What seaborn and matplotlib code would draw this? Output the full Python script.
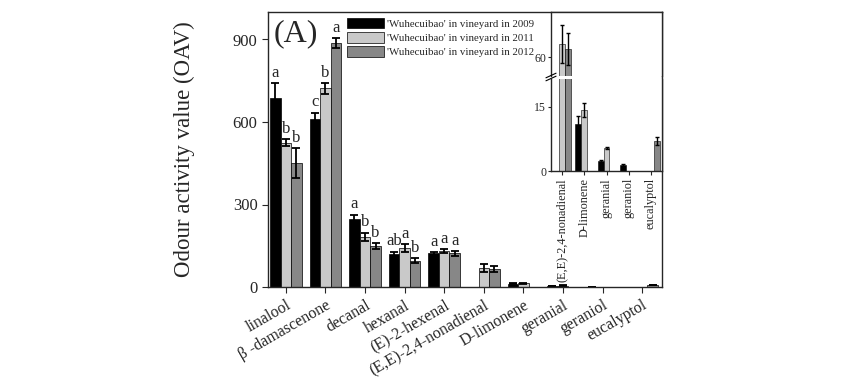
import numpy as np
import pandas as pd
import matplotlib
matplotlib.use("Agg")
import matplotlib.pyplot as plt
import seaborn as sns

compounds = ['linalool', 'β -damascenone', 'decanal', 'hexanal', '(E)-2-hexenal',
             '(E,E)-2,4-nonadienal', 'D-limonene', 'geranial', 'geraniol', 'eucalyptol']
years = ["'Wuhecuibao' in vineyard in 2009",
         "'Wuhecuibao' in vineyard in 2011",
         "'Wuhecuibao' in vineyard in 2012"]
oav_2009 = [688, 611, 248, 119, 122, 0, 11.1, 2.4, 1.4, 0]
err_2009 = [52, 23, 15, 10, 5, 0, 1.7, 0.2, 0.3, 0]
oav_2011 = [525, 722, 183, 141, 131, 70, 14.2, 5.3, 0, 0]
err_2011 = [12, 20, 15, 15, 6, 14, 1.6, 0.2, 0, 0]
oav_2012 = [450, 886, 149, 96, 122, 66, 0, 0, 0, 7.0]
err_2012 = [54, 18, 12, 10, 8, 12, 0, 0, 0, 0.9]
letters_2009 = ['a', 'c', 'a', 'ab', 'a']
letters_2011 = ['b', 'b', 'b', 'a', 'a']
letters_2012 = ['b', 'a', 'b', 'b', 'a']

inset_compounds = compounds[5:]
colors = ['#000000', '#c9c9c9', '#878787']

vals = [oav_2009, oav_2011, oav_2012]
errs = [err_2009, err_2011, err_2012]
lets = [letters_2009, letters_2011, letters_2012]

df = pd.DataFrame({
    'compound': compounds * 3,
    'year': [y for y in years for _ in compounds],
    'oav': oav_2009 + oav_2011 + oav_2012,
})

sns.set_style('ticks')
plt.rcParams['font.family'] = ['Liberation Serif', 'DejaVu Serif']
plt.rcParams['axes.linewidth'] = 1.0

fig = plt.figure(figsize=(8.43, 3.84), dpi=100)
ax = fig.add_axes([268 / 843, 1 - 287 / 384, (662 - 268) / 843, (287 - 12) / 384])

sns.barplot(data=df, x='compound', y='oav', hue='year', order=compounds, hue_order=years,
            palette=colors, errorbar=None, width=0.8, edgecolor='black', linewidth=0.5, ax=ax)
bar_groups = list(ax.containers[:3])


def add_errors(axis, groups, cats, lw=1.3, cap=3):
    for i, cont in enumerate(groups):
        for j, bar in enumerate(cont):
            k = compounds.index(cats[j])
            v, e = vals[i][k], errs[i][k]
            if v == 0 or e == 0:
                continue
            xc = bar.get_x() + bar.get_width() / 2
            axis.errorbar(xc, v, yerr=e, fmt='none', ecolor='black', elinewidth=lw,
                          capsize=cap, capthick=lw)


add_errors(ax, bar_groups, compounds)

for i, cont in enumerate(bar_groups):
    for j, lab in enumerate(lets[i]):
        bar = cont[j]
        xc = bar.get_x() + bar.get_width() / 2
        top = vals[i][j] + errs[i][j]
        ax.text(xc, top + 8, lab, ha='center', va='bottom', fontsize=12)

ax.set_xlim(-0.45, 9.5)
ax.set_ylim(0, 1000)
ax.set_yticks([0, 300, 600, 900])
ax.tick_params(axis='y', labelsize=12, direction='out', length=4)
ax.tick_params(axis='x', labelsize=11.5, direction='out', length=4)
plt.setp(ax.get_xticklabels(), rotation=30, ha='right', rotation_mode='anchor')
ax.set_xlabel('')
ax.set_ylabel('Odour activity value (OAV)', fontsize=16.5)
ax.yaxis.set_label_coords(-0.185, 0.5)
ax.text(0.07, 0.92, '(A)', transform=ax.transAxes, fontsize=23, ha='center', va='center')

ax.legend(loc='upper left', bbox_to_anchor=(0.19, 0.995), frameon=False, fontsize=7.8,
          handlelength=3.4, handleheight=1.15, handletextpad=0.3, labelspacing=0.3,
          borderaxespad=0)

# inset with broken y axis
inset_df = df[df['compound'].isin(inset_compounds)]
x0, x1 = 551 / 843, 662 / 843
ax_lo = fig.add_axes([x0, 1 - 171 / 384, x1 - x0, (171 - 79) / 384])
ax_hi = fig.add_axes([x0, 1 - 76 / 384, x1 - x0, (76 - 12) / 384])

for a in (ax_lo, ax_hi):
    sns.barplot(data=inset_df, x='compound', y='oav', hue='year', order=inset_compounds,
                hue_order=years, palette=colors, errorbar=None, width=0.8,
                edgecolor='black', linewidth=0.4, ax=a, legend=False)
    add_errors(a, list(a.containers[:3]), inset_compounds, lw=1.0, cap=1.5)
    a.set_xlim(-0.5, 4.5)
    a.set_xlabel('')
    a.set_ylabel('')
    a.tick_params(axis='y', labelsize=8.5, direction='out', length=2.5, pad=1)

ax_lo.set_ylim(0, 21.5)
ax_lo.set_yticks([0, 15])
ax_lo.spines['top'].set_visible(False)
ax_lo.tick_params(axis='x', labelsize=8.8, direction='out', length=3, pad=2)
plt.setp(ax_lo.get_xticklabels(), rotation=90)

ax_hi.set_ylim(46, 93.5)
ax_hi.set_yticks([60])
ax_hi.spines['bottom'].set_visible(False)
ax_hi.tick_params(axis='x', bottom=False, labelbottom=False)

# break marks on the inset y axis
d = 0.012
kw = dict(color='black', lw=0.8, clip_on=False)
for yy in (75.5, 78.5):
    fig.add_artist(plt.Line2D([x0 - d / 2, x0 + d / 2],
                              [1 - yy / 384 - 0.006, 1 - yy / 384 + 0.006], **kw))

fig.savefig('out.png', dpi=100)
